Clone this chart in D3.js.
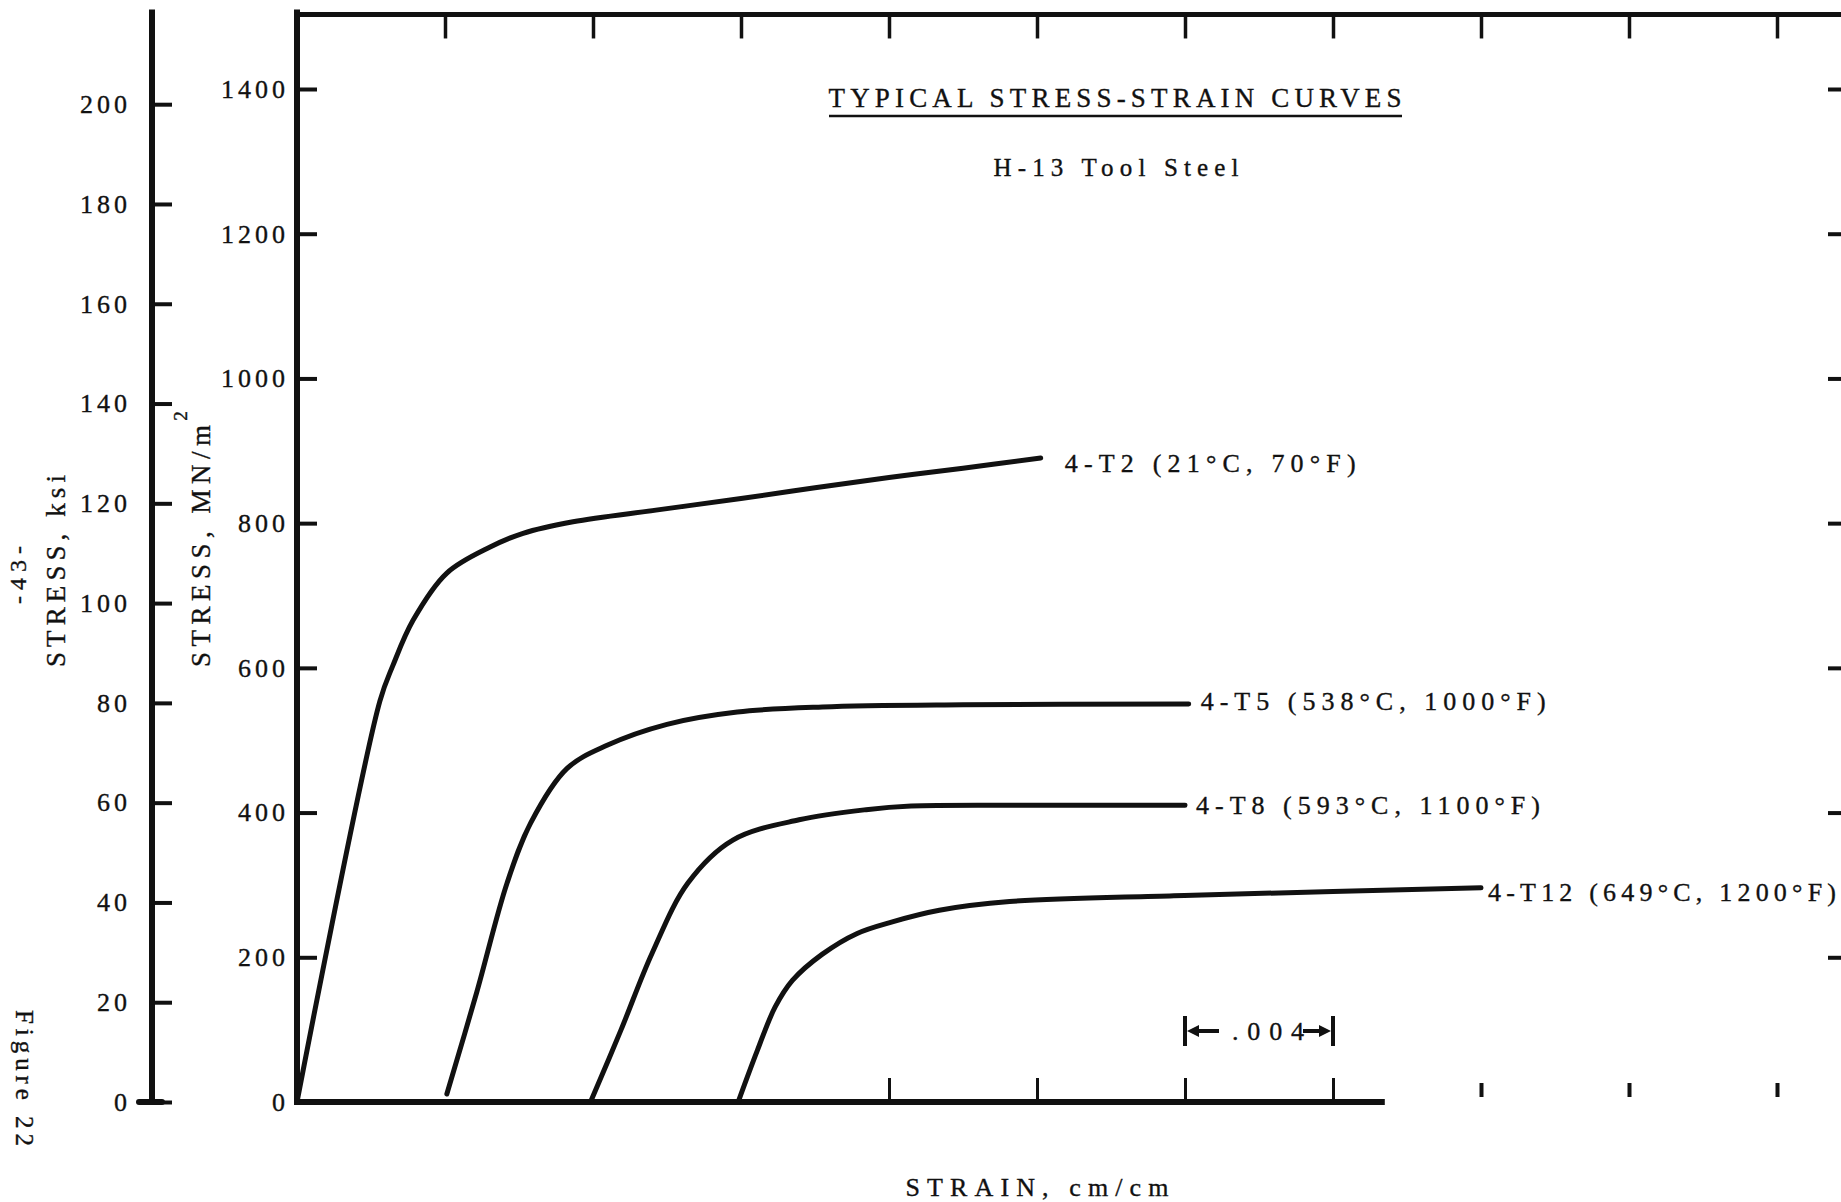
<!DOCTYPE html>
<html>
<head>
<meta charset="utf-8">
<script src="https://cdnjs.cloudflare.com/ajax/libs/d3/7.8.5/d3.min.js"></script>
<title>H-13 stress-strain</title>
<style>
  body { margin: 0; background: #fff; }
  svg text { font-family: "Liberation Serif", "Times New Roman", serif; fill: #111; stroke: #111; stroke-width: 0.35; }
  .tk line { stroke: #111; }
</style>
</head>
<body>
<script>
// tick values
const mnTicks = [0, 200, 400, 600, 800, 1000, 1200, 1400];
const ksiTicks = [0, 20, 40, 60, 80, 100, 120, 140, 160, 180, 200];
const topTicks = [0.004, 0.008, 0.012, 0.016, 0.020, 0.024, 0.028, 0.032, 0.036, 0.040];
const bottomTicks = [0.016, 0.020, 0.024, 0.028];
const looseTicks = [0.032, 0.036, 0.040];

// curves: [strain cm/cm, stress MN/m2]
const seriesNames = ["4-T2 (21\u00B0C, 70\u00B0F)", "4-T5 (538\u00B0C, 1000\u00B0F)",
  "4-T8 (593\u00B0C, 1100\u00B0F)", "4-T12 (649\u00B0C, 1200\u00B0F)"];
const t2 = [[0, 0], [0.00224, 554], [0.00259, 603], [0.00314, 666], [0.00405, 731],
  [0.00522, 767], [0.00611, 786], [0.00746, 802], [0.0097, 818], [0.0120, 834],
  [0.0140, 849], [0.0160, 863], [0.0180, 876], [0.0201, 890]];
const t5 = [[0.00405, 11], [0.00486, 152], [0.00568, 303], [0.00632, 386], [0.0073, 461],
  [0.00838, 493], [0.0100, 522], [0.0119, 539], [0.0142, 546], [0.0180, 549], [0.0241, 550]];
const t8 = [[0.00795, 2], [0.00876, 100], [0.0096, 206], [0.01057, 303], [0.01178, 362],
  [0.01357, 390], [0.01538, 404], [0.0166, 409], [0.0200, 410], [0.0240, 410]];
const t12 = [[0.01193, 1], [0.01244, 71], [0.01292, 131], [0.01339, 168], [0.01419, 204],
  [0.01514, 233], [0.01609, 249], [0.01736, 265], [0.01926, 277], [0.0237, 285],
  [0.0280, 291], [0.0320, 296]];
const series = [t2, t5, t8, t12];

// .004 scale bar
const barFrom = 0.024, barTo = 0.028;

const w = 1841, h = 1202;
const ls = 4; // letter spacing of tick labels

const x = d3.scaleLinear().domain([0, 0.040]).range([297, 1777]);
const y = d3.scaleLinear().domain([0, 1400]).range([1102, 89]);
const yKsi = d3.scaleLinear().domain([0, 1400 / 6.895]).range([1102, 89]);

const svg = d3.select("body").append("svg")
  .attr("width", w)
  .attr("height", h);

// main axis lines
svg.append("line").attr("x1", 297).attr("x2", 297).attr("y1", y(1510)).attr("y2", y(0) + 3)
  .attr("stroke", "#111").attr("stroke-width", 6);
svg.append("line").attr("x1", 152).attr("x2", 152).attr("y1", y(1510)).attr("y2", y(0))
  .attr("stroke", "#111").attr("stroke-width", 6);
svg.append("line").attr("x1", 294).attr("x2", w).attr("y1", y(1503)).attr("y2", y(1503))
  .attr("stroke", "#111").attr("stroke-width", 5);
svg.append("line").attr("x1", 294).attr("x2", x(0.0294)).attr("y1", y(0)).attr("y2", y(0))
  .attr("stroke", "#111").attr("stroke-width", 6);
// ksi zero blob
svg.append("line").attr("x1", 139).attr("x2", 162).attr("y1", yKsi(0)).attr("y2", yKsi(0))
  .attr("stroke", "#111").attr("stroke-width", 6).attr("stroke-linecap", "round");

function tidy(g, sw) {
  g.attr("class", "tk");
  g.select(".domain").remove();
  g.selectAll(".tick line").attr("stroke-width", sw);
  g.selectAll(".tick text")
    .attr("font-size", 26)
    .attr("letter-spacing", ls)
    .attr("fill", "#111");
}

svg.append("g")
  .attr("transform", "translate(297,0)")
  .call(d3.axisLeft(y).tickValues(mnTicks).tickFormat(d3.format("d")).tickSize(-20).tickPadding(12 - ls))
  .call(g => tidy(g, 4));

svg.append("g")
  .attr("transform", "translate(152,0)")
  .call(d3.axisLeft(yKsi).tickValues(ksiTicks).tickFormat(d3.format("d")).tickSize(-20).tickPadding(25 - ls))
  .call(g => tidy(g, 4));

svg.append("g")
  .attr("transform", "translate(0," + y(1503) + ")")
  .call(d3.axisBottom(x).tickValues(topTicks).tickSize(24).tickFormat(""))
  .call(g => tidy(g, 3.5));

svg.append("g")
  .attr("transform", "translate(0," + y(0) + ")")
  .call(d3.axisTop(x).tickValues(bottomTicks).tickSize(24).tickFormat(""))
  .call(g => tidy(g, 3));

svg.append("g")
  .attr("transform", "translate(0," + (y(0) - 5) + ")")
  .call(d3.axisTop(x).tickValues(looseTicks).tickSize(14).tickFormat(""))
  .call(g => tidy(g, 4));

svg.append("g")
  .attr("transform", "translate(" + w + ",0)")
  .call(d3.axisRight(y).tickValues(mnTicks.slice(1)).tickSize(-13).tickFormat(""))
  .call(g => tidy(g, 4));

// curves
const line = d3.line()
  .x(d => x(d[0]))
  .y(d => y(d[1]))
  .curve(d3.curveCatmullRom.alpha(0.5));

svg.selectAll("path.curve")
  .data(series)
  .enter()
  .append("path")
  .attr("class", "curve")
  .attr("d", line)
  .attr("fill", "none")
  .attr("stroke", "#111")
  .attr("stroke-width", 5)
  .attr("stroke-linecap", "round");

// curve labels
const labelGap = [24, 12, 11, 7];
const labelDy = [5, -3, 0, 4];
const labelLen = [291, 345, 344, 348];
svg.selectAll("text.lab")
  .data(series)
  .enter()
  .append("text")
  .attr("class", "lab")
  .attr("x", (d, i) => x(d[d.length - 1][0]) + labelGap[i])
  .attr("y", (d, i) => y(d[d.length - 1][1]) + labelDy[i])
  .attr("dy", "0.35em")
  .attr("font-size", 26)
  .attr("textLength", (d, i) => labelLen[i])
  .attr("lengthAdjust", "spacing")
  .text((d, i) => seriesNames[i]);

// titles
svg.append("text").attr("x", 1115).attr("y", 107).attr("text-anchor", "middle")
  .attr("font-size", 27).attr("textLength", 573).attr("lengthAdjust", "spacing")
  .text("TYPICAL STRESS-STRAIN CURVES");
svg.append("line").attr("x1", 829).attr("x2", 1402).attr("y1", 116).attr("y2", 116)
  .attr("stroke", "#111").attr("stroke-width", 2.5);
svg.append("text").attr("x", 1116).attr("y", 176).attr("text-anchor", "middle")
  .attr("font-size", 25).attr("textLength", 245).attr("lengthAdjust", "spacing")
  .text("H-13 Tool Steel");
svg.append("text").attr("x", 1037).attr("y", 1196).attr("text-anchor", "middle")
  .attr("font-size", 26).attr("textLength", 263).attr("lengthAdjust", "spacing")
  .text("STRAIN, cm/cm");

svg.append("text").attr("transform", "translate(65,571) rotate(-90)").attr("text-anchor", "middle")
  .attr("font-size", 27).attr("textLength", 192).attr("lengthAdjust", "spacing")
  .text("STRESS, ksi");
svg.append("text").attr("transform", "translate(210,667) rotate(-90)")
  .attr("font-size", 27).attr("textLength", 242).attr("lengthAdjust", "spacing")
  .text("STRESS, MN/m");
svg.append("text").attr("transform", "translate(187,416) rotate(-90)").attr("text-anchor", "middle")
  .attr("font-size", 19).text("2");
svg.append("text").attr("transform", "translate(26,575) rotate(-90)").attr("text-anchor", "middle")
  .attr("font-size", 24).attr("textLength", 58).attr("lengthAdjust", "spacing")
  .text("-43-");
svg.append("text").attr("transform", "translate(16,1078) rotate(90)").attr("text-anchor", "middle")
  .attr("font-size", 25).attr("textLength", 136).attr("lengthAdjust", "spacing")
  .text("Figure 22");

// .004 scale bar
const bx0 = x(barFrom), bx1 = x(barTo), by = 1031;
const bar = svg.append("g").attr("stroke", "#111").attr("fill", "#111");
bar.append("line").attr("x1", bx0).attr("x2", bx0).attr("y1", by - 15).attr("y2", by + 15).attr("stroke-width", 4);
bar.append("line").attr("x1", bx1).attr("x2", bx1).attr("y1", by - 15).attr("y2", by + 15).attr("stroke-width", 4);
bar.append("line").attr("x1", bx0 + 10).attr("x2", bx0 + 34).attr("y1", by).attr("y2", by).attr("stroke-width", 4);
bar.append("line").attr("x1", bx1 - 30).attr("x2", bx1 - 10).attr("y1", by).attr("y2", by).attr("stroke-width", 4);
bar.append("path").attr("stroke", "none")
  .attr("d", `M${bx0 + 2},${by} L${bx0 + 14},${by - 6} L${bx0 + 14},${by + 6} Z`);
bar.append("path").attr("stroke", "none")
  .attr("d", `M${bx1 - 2},${by} L${bx1 - 14},${by - 6} L${bx1 - 14},${by + 6} Z`);
svg.append("text").attr("x", bx0 + 47).attr("y", by).attr("dy", "0.35em")
  .attr("font-size", 26).attr("textLength", 72).attr("lengthAdjust", "spacing")
  .text(".004");
</script>
</body>
</html>
